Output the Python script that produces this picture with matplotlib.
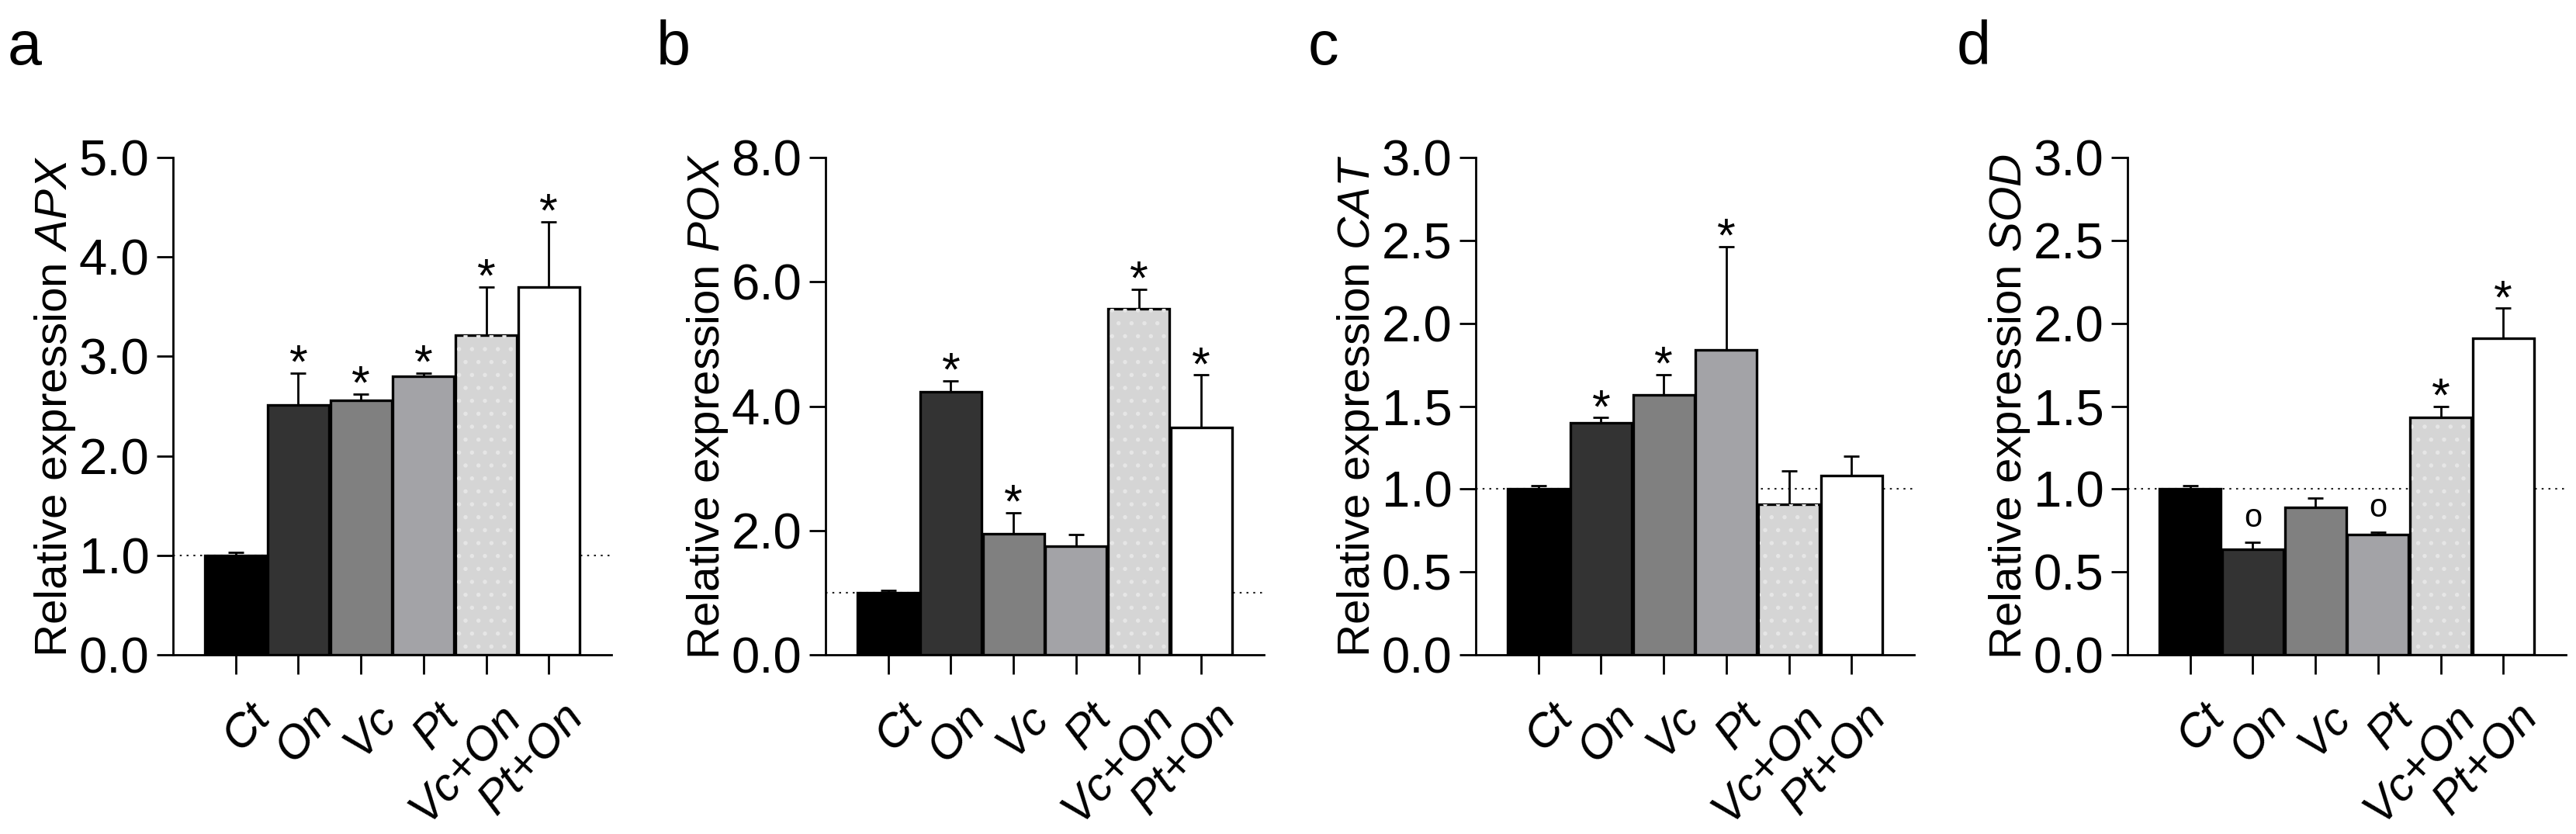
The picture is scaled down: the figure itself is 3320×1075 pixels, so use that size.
import numpy as np
import matplotlib.pyplot as plt
from matplotlib.transforms import ScaledTranslation

plt.rcParams['font.family'] = ['Liberation Sans', 'DejaVu Sans']
plt.rcParams['mathtext.fontset'] = 'custom'
plt.rcParams['mathtext.it'] = 'Liberation Sans:italic'
plt.rcParams['mathtext.rm'] = 'Liberation Sans'
plt.rcParams['hatch.linewidth'] = 1.5
narrow = ['Liberation Sans Narrow', 'Liberation Sans']

groups = ['Ct', 'On', 'Vc', 'Pt', 'Vc+On', 'Pt+On']
colors = ['#000000', '#333333', '#808080', '#a3a3a7', '#d5d5d5', '#ffffff']

genes = ['APX', 'POX', 'CAT', 'SOD']
panel_tags = ['a', 'b', 'c', 'd']

apx_mean = [1.0, 2.51, 2.56, 2.80, 3.21, 3.70]
apx_err = [0.03, 0.32, 0.06, 0.03, 0.49, 0.65]
apx_sig = ['', '*', '*', '*', '*', '*']

pox_mean = [1.0, 4.23, 1.95, 1.75, 5.57, 3.66]
pox_err = [0.03, 0.18, 0.33, 0.19, 0.31, 0.84]
pox_sig = ['', '*', '*', '', '*', '*']

cat_mean = [1.0, 1.40, 1.57, 1.84, 0.91, 1.08]
cat_err = [0.02, 0.03, 0.12, 0.62, 0.20, 0.12]
cat_sig = ['', '*', '*', '*', '', '']

sod_mean = [1.0, 0.635, 0.89, 0.726, 1.43, 1.91]
sod_err = [0.02, 0.045, 0.055, 0.014, 0.07, 0.18]
sod_sig = ['', 'o', '', 'o', '*', '*']

means = [apx_mean, pox_mean, cat_mean, sod_mean]
errs = [apx_err, pox_err, cat_err, sod_err]
sigs = [apx_sig, pox_sig, cat_sig, sod_sig]
ymax = [5.0, 8.0, 3.0, 3.0]
ystep = [1.0, 2.0, 0.5, 0.5]

W, H = 3320, 1075
lefts_px = [223, 1064, 1902, 2742]
tags_px = [10, 846, 1686, 2522]

fig = plt.figure(figsize=(W / 100, H / 100), dpi=100)

for i in range(4):
    ax = fig.add_axes([lefts_px[i] / W, 1 - 844 / H, 565 / W, 641 / H])
    x = np.arange(len(groups))
    m = np.array(means[i])
    e = np.array(errs[i])
    ax.axhline(1.0, color='#222222', lw=1.5, ls=(0, (1.2, 3)), zorder=0)
    ax.errorbar(x, m, yerr=[np.zeros_like(e), e], fmt='none', ecolor='black',
                elinewidth=2.0, capsize=7.5, capthick=2.0, zorder=1)
    ax.bar(x, m, width=0.98, color=colors, edgecolor='black', linewidth=2.4, zorder=2)
    # faint dotted texture on the Vc+On bar
    ax.bar(x[4], m[4], width=0.93, color='none', edgecolor='#e6e6e6',
           hatch='.', linewidth=0, zorder=2.5)
    for xi, top, s in zip(x, m + e, sigs[i]):
        if s == '*':
            ax.annotate('*', (xi, top), xytext=(0, -4), textcoords='offset points',
                        ha='center', va='baseline', fontsize=44, family=narrow)
        elif s == 'o':
            ax.annotate('o', (xi, top), xytext=(0, 14), textcoords='offset points',
                        ha='center', va='baseline', fontsize=30)
    ax.set_xlim(-1, 6)
    ax.set_ylim(0, ymax[i])
    ax.set_yticks(np.arange(0, ymax[i] + 1e-9, ystep[i]))
    ax.yaxis.set_major_formatter(plt.FormatStrFormatter('%.1f'))
    ax.set_xticks(x)
    ax.set_xticklabels(groups, rotation=48, ha='right', va='top', rotation_mode='anchor',
                       style='italic', fontsize=43)
    for lab in ax.get_yticklabels():
        lab.set_family(narrow)
        lab.set_fontsize(47)
    ax.tick_params(axis='y', direction='out', length=15, width=2.0, pad=7, color='black')
    ax.tick_params(axis='x', direction='out', length=18, width=2.0, pad=20, color='black')
    shift = ScaledTranslation(0.15, 0, fig.dpi_scale_trans)
    for lab in ax.get_xticklabels():
        lab.set_transform(lab.get_transform() + shift)
    for sp in ['top', 'right']:
        ax.spines[sp].set_visible(False)
    for sp in ['left', 'bottom']:
        ax.spines[sp].set_linewidth(2.0)
    ax.set_ylabel('Relative expression $\\mathit{' + genes[i] + '}$', fontsize=42)
    ax.yaxis.set_label_coords(-0.218, 0.5)
    fig.text(tags_px[i] / W, 1 - 83 / H, panel_tags[i], fontsize=57,
             va='baseline', ha='left')

fig.savefig('out.png', dpi=100)
